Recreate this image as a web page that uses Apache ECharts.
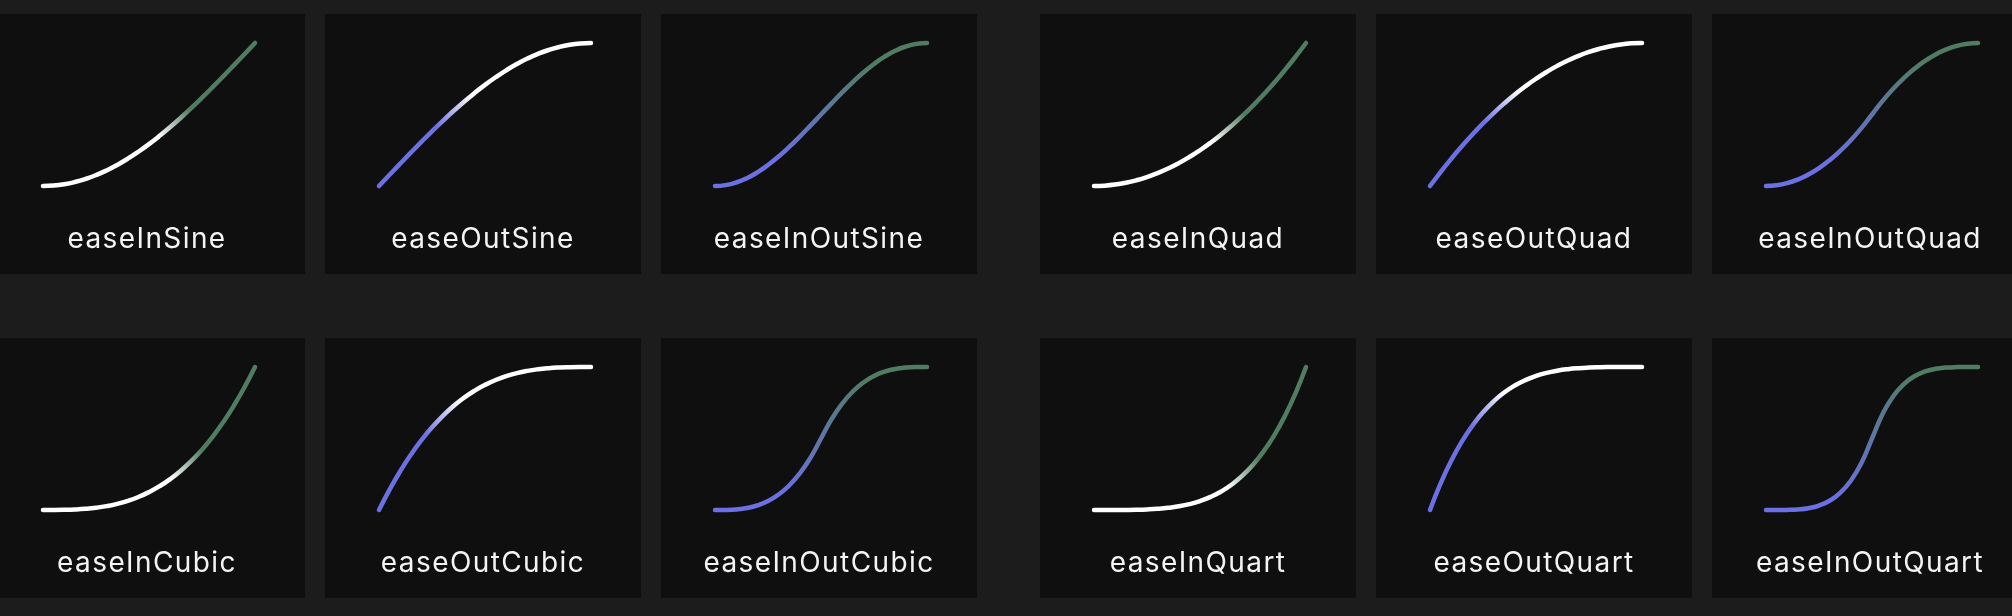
<!DOCTYPE html>
<html>
<head>
<meta charset="utf-8">
<script src="https://cdn.jsdelivr.net/npm/echarts@6/dist/echarts.min.js"></script>
<style>
html,body{margin:0;padding:0;background:#1c1c1c;}
#chart{width:2012px;height:616px;}
</style>
</head>
<body>
<div id="chart"></div>
<script>
const T = [0, 0.05, 0.1, 0.15, 0.2, 0.25, 0.3, 0.35, 0.4, 0.45, 0.5, 0.55, 0.6, 0.65, 0.7, 0.75, 0.8, 0.85, 0.9, 0.95, 1];
const names = [
  'easeInSine', 'easeOutSine', 'easeInOutSine', 'easeInQuad', 'easeOutQuad', 'easeInOutQuad',
  'easeInCubic', 'easeOutCubic', 'easeInOutCubic', 'easeInQuart', 'easeOutQuart', 'easeInOutQuart'
];
const easeInSine     = [0, 0.0031, 0.0123, 0.0276, 0.0489, 0.0761, 0.1090, 0.1474, 0.1910, 0.2396, 0.2929, 0.3506, 0.4122, 0.4775, 0.5460, 0.6173, 0.6910, 0.7666, 0.8436, 0.9215, 1];
const easeOutSine    = [0, 0.0785, 0.1564, 0.2334, 0.3090, 0.3827, 0.4540, 0.5225, 0.5878, 0.6494, 0.7071, 0.7604, 0.8090, 0.8526, 0.8910, 0.9239, 0.9511, 0.9724, 0.9877, 0.9969, 1];
const easeInOutSine  = [0, 0.0062, 0.0245, 0.0545, 0.0955, 0.1464, 0.2061, 0.2730, 0.3455, 0.4218, 0.5, 0.5782, 0.6545, 0.7270, 0.7939, 0.8536, 0.9045, 0.9455, 0.9755, 0.9938, 1];
const easeInQuad     = [0, 0.0025, 0.01, 0.0225, 0.04, 0.0625, 0.09, 0.1225, 0.16, 0.2025, 0.25, 0.3025, 0.36, 0.4225, 0.49, 0.5625, 0.64, 0.7225, 0.81, 0.9025, 1];
const easeOutQuad    = [0, 0.0975, 0.19, 0.2775, 0.36, 0.4375, 0.51, 0.5775, 0.64, 0.6975, 0.75, 0.7975, 0.84, 0.8775, 0.91, 0.9375, 0.96, 0.9775, 0.99, 0.9975, 1];
const easeInOutQuad  = [0, 0.005, 0.02, 0.045, 0.08, 0.125, 0.18, 0.245, 0.32, 0.405, 0.5, 0.595, 0.68, 0.755, 0.82, 0.875, 0.92, 0.955, 0.98, 0.995, 1];
const easeInCubic    = [0, 0.0001, 0.001, 0.0034, 0.008, 0.0156, 0.027, 0.0429, 0.064, 0.0911, 0.125, 0.1664, 0.216, 0.2746, 0.343, 0.4219, 0.512, 0.6141, 0.729, 0.8574, 1];
const easeOutCubic   = [0, 0.1426, 0.271, 0.3859, 0.488, 0.5781, 0.657, 0.7254, 0.784, 0.8336, 0.875, 0.9089, 0.936, 0.9571, 0.973, 0.9844, 0.992, 0.9966, 0.999, 0.9999, 1];
const easeInOutCubic = [0, 0.0005, 0.004, 0.0135, 0.032, 0.0625, 0.108, 0.1715, 0.256, 0.3645, 0.5, 0.6355, 0.744, 0.8285, 0.892, 0.9375, 0.968, 0.9865, 0.996, 0.9995, 1];
const easeInQuart    = [0, 0, 0.0001, 0.0005, 0.0016, 0.0039, 0.0081, 0.0150, 0.0256, 0.0410, 0.0625, 0.0915, 0.1296, 0.1785, 0.2401, 0.3164, 0.4096, 0.5220, 0.6561, 0.8145, 1];
const easeOutQuart   = [0, 0.1855, 0.3439, 0.4780, 0.5904, 0.6836, 0.7599, 0.8215, 0.8704, 0.9085, 0.9375, 0.9590, 0.9744, 0.9850, 0.9919, 0.9961, 0.9984, 0.9995, 0.9999, 1, 1];
const easeInOutQuart = [0, 0.0001, 0.0008, 0.0041, 0.0128, 0.0313, 0.0648, 0.1201, 0.2048, 0.3281, 0.5, 0.6719, 0.7952, 0.8799, 0.9352, 0.9687, 0.9872, 0.9959, 0.9992, 0.9999, 1];
const curves = [
  easeInSine, easeOutSine, easeInOutSine, easeInQuad, easeOutQuad, easeInOutQuad,
  easeInCubic, easeOutCubic, easeInOutCubic, easeInQuart, easeOutQuart, easeInOutQuart
];
const kinds = ['in', 'out', 'inout', 'in', 'out', 'inout', 'in', 'out', 'inout', 'in', 'out', 'inout'];

// ---- layout & style ----
const colX = [-11, 325, 661, 1040, 1376, 1712];
const rowY = [14, 338];
const PW = 316, PH = 260;
const CX0 = 54, CX1 = 266, CY1 = 29, CY0 = 172;   // curve box inside a panel
const xMin = -CX0 / (CX1 - CX0), xMax = (PW - CX0) / (CX1 - CX0);
const yMax = 1 + CY1 / (CY0 - CY1), yMin = -(PH - CY0) / (CY0 - CY1);
const BLUE = '#6b70e2', WHITE = '#ffffff', GREEN = '#507c62';

function grad(kind) {
  let stops;
  if (kind === 'in') stops = [{offset: 0, color: WHITE}, {offset: 0.48, color: WHITE}, {offset: 0.64, color: GREEN}, {offset: 1, color: GREEN}];
  else if (kind === 'out') stops = [{offset: 0, color: BLUE}, {offset: 0.32, color: BLUE}, {offset: 0.5, color: WHITE}, {offset: 1, color: WHITE}];
  else stops = [{offset: 0, color: BLUE}, {offset: 0.25, color: BLUE}, {offset: 0.78, color: GREEN}, {offset: 1, color: GREEN}];
  return {type: 'linear', x: 0, y: 1, x2: 1, y2: 0, colorStops: stops};
}

const grids = [], xAxes = [], yAxes = [], series = [], graphics = [];
curves.forEach((vals, i) => {
  const r = Math.floor(i / 6), c = i % 6;
  grids.push({left: colX[c], top: rowY[r], width: PW, height: PH, show: true,
    backgroundColor: '#0f0f0f', borderWidth: 0, containLabel: false, outerBoundsMode: 'none'});
  xAxes.push({type: 'value', gridIndex: i, min: xMin, max: xMax, show: false});
  yAxes.push({type: 'value', gridIndex: i, min: yMin, max: yMax, show: false});
  series.push({
    type: 'line', name: names[i], xAxisIndex: i, yAxisIndex: i,
    data: T.map((t, k) => [t, vals[k]]),
    smooth: 0.5, showSymbol: false, animation: false, silent: true, clip: false,
    lineStyle: {width: 4.5, cap: 'round', join: 'round', color: grad(kinds[i])}
  });
  graphics.push({
    type: 'text', x: colX[c] + PW / 2, y: rowY[r] + 225.5, silent: true,
    style: {text: names[i], fill: '#f4f4f4', font: '28px Inter', align: 'center', verticalAlign: 'middle'}
  });
});

const chart = echarts.init(document.getElementById('chart'), null, {renderer: 'canvas'});
chart.setOption({
  backgroundColor: '#1c1c1c',
  animation: false,
  grid: grids, xAxis: xAxes, yAxis: yAxes, series: series,
  graphic: graphics
});
// the labels in the reference are set with slightly open tracking
try {
  let applied = false;
  document.querySelectorAll('#chart canvas').forEach(cv => {
    const ctx = cv.getContext('2d');
    if ('letterSpacing' in ctx) { ctx.letterSpacing = '1.4px'; applied = true; }
  });
  if (applied) chart.getZr().painter.refresh(true);
} catch (e) {}
</script>
</body>
</html>
